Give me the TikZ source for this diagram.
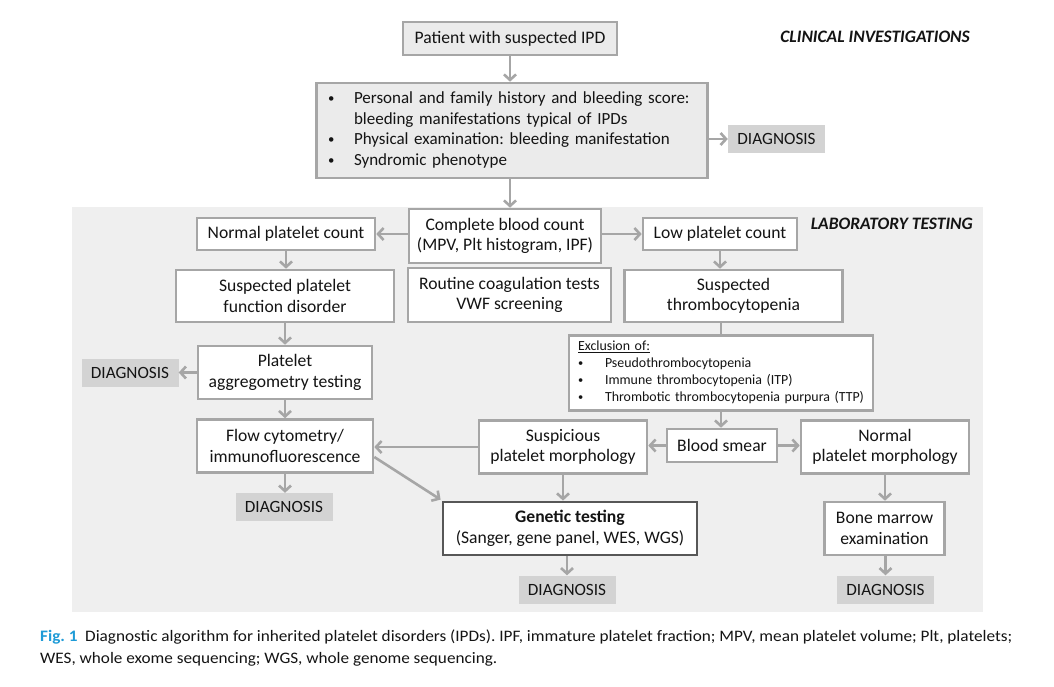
\documentclass[tikz,border=0pt]{standalone}
\usepackage{fontspec}
\setmainfont{Carlito}
\usetikzlibrary{arrows.meta,calc}
\definecolor{bord}{HTML}{A6A6A6}
\definecolor{clinfill}{HTML}{EBEBEB}
\definecolor{labfill}{HTML}{EFEFEF}
\definecolor{diagfill}{HTML}{D3D3D3}
\definecolor{genbord}{HTML}{575757}
\definecolor{figblue}{HTML}{1E9BD7}
\definecolor{txt}{HTML}{141414}
\newcommand{\bxfont}{\fontsize{17.6}{20.5}\selectfont}
\newcommand{\smbul}{\raisebox{0.15ex}{\scalebox{0.75}{\textbullet}}}
\frenchspacing
\begin{document}
\begin{tikzpicture}[x=1pt,y=-1pt,
  every node/.style={inner sep=0pt,text=txt},
  wbox/.style={draw=bord,line width=2.6pt,fill=white,align=center,font=\bxfont},
  cbox/.style={draw=bord,line width=2.6pt,fill=clinfill,align=center,font=\bxfont},
  diagbox/.style={fill=diagfill,minimum width=97pt,minimum height=28pt,font=\fontsize{17.2}{20}\selectfont},
  genbox/.style={draw=genbord,line width=2.8pt,fill=white,align=center,font=\bxfont},
  arr/.style={draw=bord,line width=2.6pt,-{Straight Barb[length=5.5pt,width=12pt]}},
  plain/.style={draw=bord,line width=2.6pt},
  heading/.style={font=\fontsize{17.5}{20}\selectfont\bfseries\itshape,anchor=east}]
\useasboundingbox (0,0) rectangle (1054,686);
\fill[white] (0,0) rectangle (1054,686);
% laboratory background
\fill[labfill] (72,207) rectangle (983,612);
% headings
\node[heading] (hclin) at (970,37) {CLINICAL INVESTIGATIONS};
\node[heading] (hlab) at (973,224) {LABORATORY TESTING};
% clinical
\node[cbox,minimum width=391pt,minimum height=95pt,text width=368pt,align=left,
      font=\fontsize{17}{20.5}\selectfont] (hist) at (512,130.5)
  {\begin{tabular}{@{}p{26pt}@{}l@{}}
   \smbul & Personal and family history and bleeding score:\\
          & bleeding manifestations typical of IPDs\\
   \smbul & Physical examination: bleeding manifestation\\
   \smbul & Syndromic phenotype
   \end{tabular}};
\node[cbox,minimum width=214pt,minimum height=33pt] (pat) at (510,38.5) {Patient with suspected IPD};
\node[diagbox] (d1) at (776.5,139) {DIAGNOSIS};
% laboratory
\node[wbox,minimum width=192pt,minimum height=54pt] (cbc) at (505,236) {Complete blood count\\(MPV, Plt histogram, IPF)};
\node[wbox,minimum width=178pt,minimum height=32pt] (npc) at (286,234) {Normal platelet count};
\node[wbox,minimum width=154pt,minimum height=32pt] (lpc) at (720,234) {Low platelet count};
\node[wbox,minimum width=203pt,minimum height=54pt] (rct) at (509.5,295) {Routine coagulation tests\\VWF screening};
\node[wbox,minimum width=218pt,minimum height=52pt] (spfd) at (285,296) {Suspected platelet\\function disorder};
\node[wbox,minimum width=218pt,minimum height=52pt] (sth) at (733.5,296) {Suspected\\thrombocytopenia};
\node[wbox,minimum width=304pt,minimum height=75pt,text width=286pt,align=left,
      font=\fontsize{13.9}{17}\selectfont] (excl) at (721,373)
  {\begin{tabular}{@{}p{27pt}@{}l@{}}
   \multicolumn{2}{@{}l}{\underline{Exclusion of:}}\\
   \smbul & Pseudothrombocytopenia\\
   \smbul & Immune thrombocytopenia (ITP)\\
   \smbul & Thrombotic thrombocytopenia purpura (TTP)
   \end{tabular}};
\node[wbox,minimum width=110pt,minimum height=33pt] (bsm) at (722,445.5) {Blood smear};
\node[wbox,minimum width=168pt,minimum height=53pt] (sm) at (563,447) {Suspicious\\platelet morphology};
\node[wbox,minimum width=168pt,minimum height=53pt] (npm) at (885,447) {Normal\\platelet morphology};
\node[wbox,minimum width=174pt,minimum height=53pt] (pag) at (285,372.5) {Platelet\\aggregometry testing};
\node[diagbox] (dl) at (130,372.5) {DIAGNOSIS};
\node[wbox,minimum width=176pt,minimum height=53pt] (flow) at (285,446) {Flow cytometry/\\immunofluorescence};
\node[diagbox] (df) at (284,507) {DIAGNOSIS};
\node[genbox,minimum width=254pt,minimum height=53pt] (gen) at (570,528.5) {\textbf{Genetic testing}\\(Sanger, gene panel, WES, WGS)};
\node[diagbox] (dg) at (567,589.5) {DIAGNOSIS};
\node[wbox,minimum width=120pt,minimum height=53pt] (bone) at (884.5,528.5) {Bone marrow\\examination};
\node[diagbox] (db) at (885.5,589.5) {DIAGNOSIS};
% connectors
\draw[arr] (pat.south) -- (hist.north -| pat.south);
\draw[arr] (d1.west -| hist.east) -- (d1.west);
\draw[arr] (hist.south -| 510,0) -- (cbc.north -| 510,0);
\draw[arr] (npc.east -| cbc.west) -- (npc.east);
\draw[arr] (lpc.west -| cbc.east) -- (lpc.west);
\draw[arr] (npc.south) -- (spfd.north -| npc.south);
\draw[arr] (lpc.south) -- (sth.north -| lpc.south);
\draw[plain] (sth.south -| excl.north) -- (excl.north);
\draw[arr] (excl.south) -- (bsm.north -| excl.south);
\draw[arr] (bsm.west) -- (bsm.west -| sm.east);
\draw[arr] (bsm.east) -- (bsm.east -| npm.west);
\draw[arr] (spfd.south -| pag.north) -- (pag.north);
\draw[arr] (pag.west) -- (pag.west -| dl.east);
\draw[arr] (pag.south) -- (flow.north -| pag.south);
\draw[arr] (sm.west) -- (sm.west -| flow.east);
\draw[arr] (flow.south) -- (df.north -| flow.south);
\draw[arr] ([yshift=-11pt]flow.east) -- ([xshift=-1pt,yshift=1pt]gen.north west);
\draw[arr] (sm.south) -- (gen.north -| sm.south);
\draw[arr] (gen.south -| dg.north) -- (dg.north);
\draw[arr] (npm.south) -- (bone.north -| npm.south);
\draw[arr] (bone.south -| db.north) -- (db.north);
% caption
\node[anchor=west,font=\fontsize{16}{18}\selectfont] (cap1) at (40,637)
  {\resizebox{972pt}{\height}{\textcolor{figblue}{\textbf{Fig. 1}}\hspace{7pt}Diagnostic algorithm for inherited platelet disorders (IPDs). IPF, immature platelet fraction; MPV, mean platelet volume; Plt, platelets;}};
\node[anchor=west,font=\fontsize{16}{18}\selectfont] (cap2) at (40,659)
  {\resizebox{457pt}{\height}{WES, whole exome sequencing; WGS, whole genome sequencing.}};
\end{tikzpicture}
\end{document}
